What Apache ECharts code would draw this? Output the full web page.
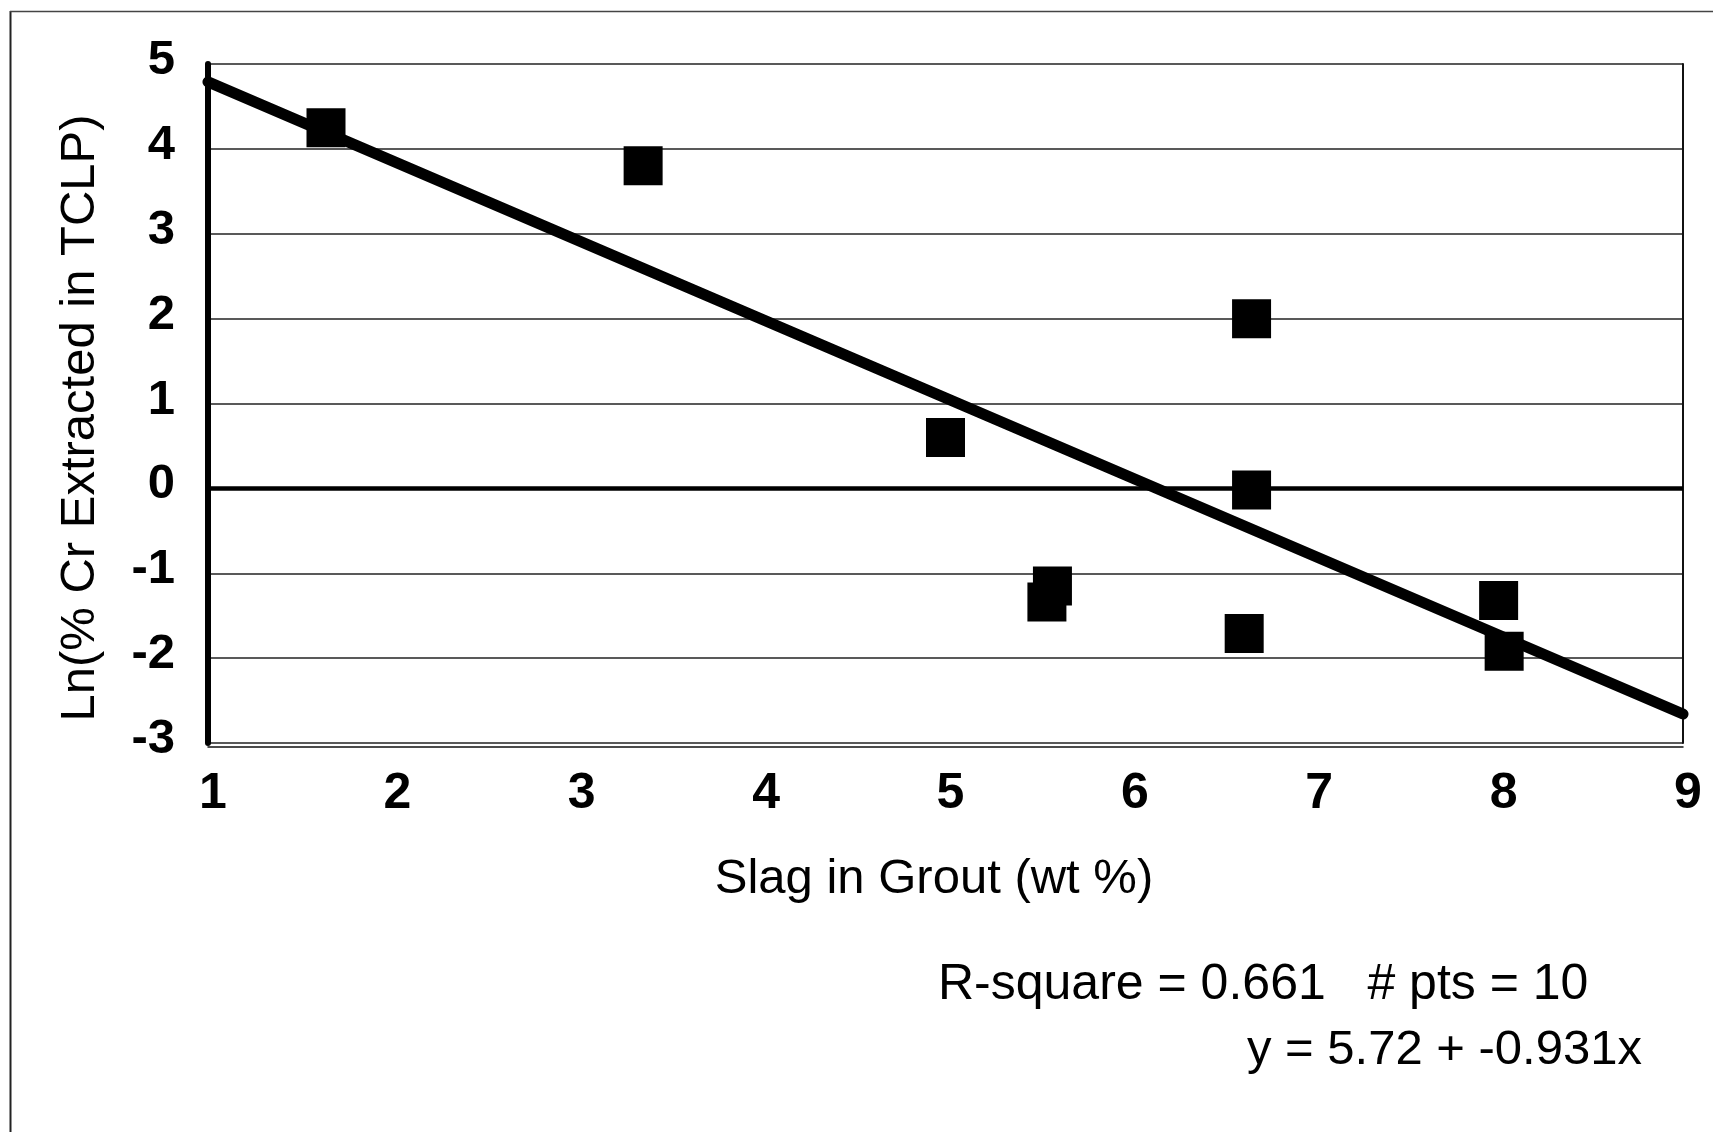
<!DOCTYPE html>
<html>
<head>
<meta charset="utf-8">
<title>Ln(% Cr Extracted in TCLP) vs Slag in Grout</title>
<script src="https://cdn.jsdelivr.net/npm/echarts@6/dist/echarts.min.js"></script>
<style>
  html, body { margin: 0; padding: 0; background: #fff; }
  #chart { width: 1713px; height: 1132px; }
</style>
</head>
<body>
<div id="chart"></div>
<script>
// Measured samples: slag content of the grout (wt %) and ln of % Cr extracted in TCLP
const slagWt = [1.64, 3.36, 5.00, 5.58, 5.55, 6.66, 6.66, 6.62, 8.00, 8.03];
const lnCrExtracted = [4.25, 3.80, 0.60, -1.15, -1.34, 2.00, -0.02, -1.71, -1.32, -1.92];

// Least-squares fit reported with the data
const fitIntercept = 5.72;
const fitSlope = -0.931;
const fitRange = [1, 9];
const fitStatsText = 'R-square = 0.661   # pts = 10';
const fitEquationText = 'y = 5.72 + -0.931x';

// Axis ranges and titles
const xRange = [1, 9];
const yRange = [-3, 5];
const xTitle = 'Slag in Grout (wt %)';
const yTitle = 'Ln(% Cr Extracted in TCLP)';

const points = slagWt.map((x, i) => [x, lnCrExtracted[i]]);
const fitLine = fitRange.map(x => [x, fitIntercept + fitSlope * x]);

const FONT = '"Liberation Sans", Arial, Helvetica, sans-serif';

const chart = echarts.init(document.getElementById('chart'), null, { renderer: 'canvas' });

chart.setOption({
  backgroundColor: '#ffffff',
  animation: false,
  grid: {
    left: 208, right: 30, top: 64, bottom: 389,
    containLabel: false,
    outerBoundsMode: 'none'
  },
  xAxis: {
    type: 'value',
    min: xRange[0], max: xRange[1], interval: 1,
    offset: 4,
    axisLine: { show: true, onZero: false, lineStyle: { color: '#111', width: 1.5 } },
    axisTick: { show: false },
    splitLine: { show: false },
    axisLabel: {
      margin: 22,
      color: '#000',
      fontFamily: FONT,
      fontWeight: 'bold',
      fontSize: 50,
      padding: [0, 0, 0, 10]
    }
  },
  yAxis: [
    {
      type: 'value',
      min: yRange[0], max: yRange[1], interval: 1,
      axisLine: { show: true, onZero: false, lineStyle: { color: '#000', width: 6 } },
      axisTick: { show: false },
      splitLine: { show: true, lineStyle: { color: '#222', width: 1.6 } },
      axisLabel: {
        margin: 33,
        color: '#000',
        fontFamily: FONT,
        fontWeight: 'bold',
        fontSize: 49,
        verticalAlign: 'bottom',
        lineHeight: 7
      }
    },
    {
      type: 'value',
      position: 'right',
      min: yRange[0], max: yRange[1], interval: 1,
      axisLine: { show: true, onZero: false, lineStyle: { color: '#111', width: 2 } },
      axisTick: { show: false },
      axisLabel: { show: false },
      splitLine: { show: false }
    }
  ],
  series: [
    {
      name: 'fit',
      type: 'line',
      data: fitLine,
      showSymbol: false,
      symbol: 'none',
      silent: true,
      z: 3,
      lineStyle: { color: '#000', width: 11, cap: 'round' },
      markLine: {
        silent: true,
        symbol: ['none', 'none'],
        label: { show: false },
        lineStyle: { color: '#000', width: 4.5, type: 'solid' },
        data: [{ yAxis: 0 }]
      }
    },
    {
      name: 'samples',
      type: 'scatter',
      data: points,
      symbol: 'rect',
      symbolSize: 39,
      z: 4,
      itemStyle: { color: '#000', opacity: 1 }
    }
  ],
  graphic: [
    // outer frame edges
    { type: 'line', silent: true, shape: { x1: 10.5, y1: 11, x2: 10.5, y2: 1132 },
      style: { stroke: '#222', lineWidth: 2 } },
    { type: 'line', silent: true, shape: { x1: 10, y1: 11.5, x2: 1713, y2: 11.5 },
      style: { stroke: '#444', lineWidth: 1.5 } },
    // axis titles
    { type: 'text', silent: true, x: 934, y: 879,
      style: { text: xTitle, fontFamily: FONT, fontSize: 49, fill: '#000',
               align: 'center', verticalAlign: 'middle' } },
    { type: 'text', silent: true, x: 80, y: 418, rotation: Math.PI / 2,
      style: { text: yTitle, fontFamily: FONT, fontSize: 49, fill: '#000',
               align: 'center', verticalAlign: 'middle' } },
    // fit summary
    { type: 'text', silent: true, x: 938, y: 985,
      style: { text: fitStatsText, fontFamily: FONT, fontSize: 50, fill: '#000',
               align: 'left', verticalAlign: 'middle' } },
    { type: 'text', silent: true, x: 1247, y: 1050,
      style: { text: fitEquationText, fontFamily: FONT, fontSize: 49, fill: '#000',
               align: 'left', verticalAlign: 'middle' } }
  ]
});
</script>
</body>
</html>
